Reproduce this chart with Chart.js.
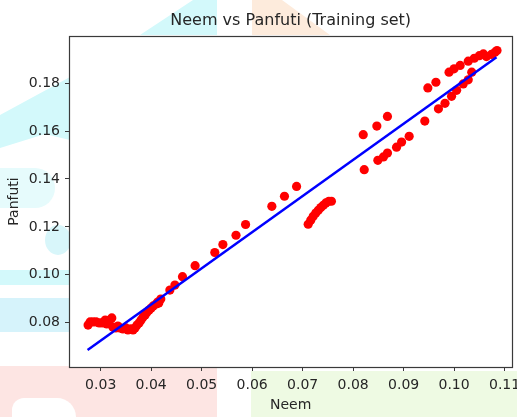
<!DOCTYPE html>
<html>
<head>
<meta charset="utf-8">
<script src="https://cdn.jsdelivr.net/npm/chart.js@4"></script>
<style>
  html, body { margin: 0; padding: 0; background: #ffffff; }
  #wrap { position: relative; width: 517px; height: 417px; overflow: hidden; }
  .wm { position: absolute; }
  #chart { position: absolute; left: 0; top: 0; }
</style>
</head>
<body>
<div id="wrap">
  <!-- faded watermark behind the figure -->
  <div class="wm" style="left:0;top:0;width:517px;height:417px;background:#d3f9fb;clip-path:polygon(140px 35px,193px 0,217px 0,217px 35px);"></div>
  <div class="wm" style="left:0;top:0;width:517px;height:417px;background:#fdebdc;clip-path:polygon(252px 0,282px 0,330px 35px,252px 35px);"></div>
  <div class="wm" style="left:0;top:0;width:517px;height:417px;background:#d3f9fb;clip-path:polygon(0 115px,70px 77px,70px 140px,45px 134px,0 148px);"></div>
  <div class="wm" style="left:0;top:168px;width:55px;height:40px;background:#e6fbfc;border-radius:0 22px 22px 0;"></div>
  <div class="wm" style="left:45px;top:225px;width:26px;height:30px;background:#d8f6fa;border-radius:50%;"></div>
  <div class="wm" style="left:0;top:270px;width:70px;height:15px;background:#d3f9fb;"></div>
  <div class="wm" style="left:0;top:298px;width:70px;height:34px;background:#d6f3fb;"></div>
  <div class="wm" style="left:0;top:366px;width:217px;height:51px;background:#fde5e3;"></div>
  <div class="wm" style="left:12px;top:398px;width:64px;height:19px;background:#ffffff;border-radius:14px 22px 0 0;"></div>
  <div class="wm" style="left:251px;top:371px;width:266px;height:46px;background:#eefae3;"></div>
  <canvas id="chart" width="517" height="417"></canvas>
</div>
<script>
// Neem vs Panfuti — nuage de points + droite de régression

Chart.defaults.font.family = "'DejaVu Sans', sans-serif";
Chart.defaults.color = '#262626';

// valeurs (training set)
const neem = [
  0.0275, 0.0279, 0.0285, 0.0291, 0.0297, 0.0303, 0.0309, 0.0312, 0.0318, 0.0322,
  0.0324, 0.0330, 0.0334, 0.0338, 0.0344, 0.0350, 0.0354, 0.0360, 0.0364, 0.0368,
  0.0372, 0.0376, 0.0380, 0.0384, 0.0388, 0.0392, 0.0396, 0.0400, 0.0404, 0.0410,
  0.0413, 0.0415, 0.0419,
  0.0437, 0.0447, 0.0462, 0.0487, 0.0526, 0.0542, 0.0568, 0.0587, 0.0639, 0.0664, 0.0688,
  0.0711, 0.0716, 0.0721, 0.0726, 0.0731, 0.0736, 0.0741, 0.0746, 0.0752, 0.0757,
  0.0820, 0.0847, 0.0868, 0.0822, 0.0849, 0.0860, 0.0868, 0.0886, 0.0896, 0.0911,
  0.0942, 0.0948, 0.0964, 0.0969, 0.0982, 0.0995, 0.1005, 0.1018, 0.1028, 0.1035,
  0.0990, 0.1000, 0.1012, 0.1028, 0.1040, 0.1050, 0.1058, 0.1064, 0.1074, 0.1081, 0.1085
];
const panfuti = [
  0.0790, 0.0803, 0.0803, 0.0803, 0.0799, 0.0799, 0.0811, 0.0795, 0.0811, 0.0820,
  0.0782, 0.0778, 0.0786, 0.0778, 0.0774, 0.0778, 0.0770, 0.0774, 0.0770, 0.0778,
  0.0790, 0.0799, 0.0811, 0.0824, 0.0832, 0.0845, 0.0853, 0.0861, 0.0870, 0.0878,
  0.0886, 0.0882, 0.0899,
  0.0936, 0.0957, 0.0992, 0.1038, 0.1093, 0.1126, 0.1165, 0.1210, 0.1286, 0.1328, 0.1369,
  0.1211, 0.1228, 0.1244, 0.1258, 0.1269, 0.1281, 0.1290, 0.1300, 0.1307, 0.1307,
  0.1585, 0.1621, 0.1661, 0.1439, 0.1478, 0.1492, 0.1508, 0.1533, 0.1554, 0.1578,
  0.1642, 0.1780, 0.1804, 0.1693, 0.1716, 0.1745, 0.1770, 0.1797, 0.1814, 0.1846,
  0.1846, 0.1860, 0.1874, 0.1892, 0.1904, 0.1915, 0.1922, 0.1911, 0.1920, 0.1929, 0.1936
];

// droite de régression (prédictions aux extrémités)
const fitNeem = [0.0274, 0.1084];
const fitPanfuti = [0.0686, 0.1908];

// graduations
const xTicks = [0.03, 0.04, 0.05, 0.06, 0.07, 0.08, 0.09, 0.10, 0.11];
const yTicks = [0.08, 0.10, 0.12, 0.14, 0.16, 0.18];

const chartTitle = 'Neem vs Panfuti (Training set)';

const toPoints = (xs, ys) => xs.map((x, i) => ({ x: x, y: ys[i] }));

// fond blanc de la zone de tracé, cadre et titre centré sur les axes (façon matplotlib)
const axesFrame = {
  id: 'axesFrame',
  beforeDatasetsDraw(chart) {
    const { ctx, chartArea: a } = chart;
    ctx.save();
    ctx.fillStyle = '#ffffff';
    ctx.fillRect(a.left, a.top, a.right - a.left, a.bottom - a.top);
    ctx.restore();
  },
  afterDraw(chart) {
    const { ctx, chartArea: a } = chart;
    ctx.save();
    ctx.strokeStyle = '#3a3a3a';
    ctx.lineWidth = 1.2;
    ctx.strokeRect(Math.round(a.left) + 0.5, Math.round(a.top) + 0.5,
      Math.round(a.right - a.left), Math.round(a.bottom - a.top));

    ctx.fillStyle = '#262626';
    ctx.font = "16px 'DejaVu Sans', sans-serif";
    ctx.textAlign = 'center';
    ctx.textBaseline = 'middle';
    ctx.fillText(chartTitle, (a.left + a.right) / 2, a.top - 15);
    ctx.restore();
  },
};

const tickFont = { size: 14 };

// pas de marge réservée pour les libellés qui débordent (le 0.11 est coupé à droite)
const noSidePadding = (s) => {
  s.paddingLeft = 0;
  s.paddingRight = 0;
};

new Chart(document.getElementById('chart').getContext('2d'), {
  type: 'scatter',
  data: {
    datasets: [
      {
        type: 'line',
        data: toPoints(fitNeem, fitPanfuti),
        borderColor: '#0000ff',
        borderWidth: 2.5,
        pointRadius: 0,
        fill: false,
      },
      {
        data: toPoints(neem, panfuti),
        backgroundColor: '#ff0000',
        borderWidth: 0,
        pointRadius: 4.6,
      },
    ],
  },
  options: {
    responsive: false,
    animation: false,
    devicePixelRatio: 1,
    layout: { padding: { left: 0, right: 4, top: 36, bottom: 0 } },
    plugins: {
      legend: { display: false },
      tooltip: { enabled: false },
    },
    scales: {
      x: {
        type: 'linear',
        min: 0.02372,
        max: 0.11155,
        afterBuildTicks: (s) => { s.ticks = xTicks.map(v => ({ value: v })); },
        afterFit: (s) => { s.height = 50; noSidePadding(s); },
        grid: { drawOnChartArea: false, drawTicks: true, tickLength: 4, color: '#3a3a3a' },
        border: { display: false },
        ticks: {
          font: tickFont,
          padding: 6,
          maxRotation: 0,
          callback: (v) => v.toFixed(2),
        },
        title: { display: true, text: 'Neem', font: tickFont, padding: { top: 0, bottom: 3 } },
      },
      y: {
        type: 'linear',
        min: 0.0615,
        max: 0.1997,
        afterBuildTicks: (s) => { s.ticks = yTicks.map(v => ({ value: v })); },
        afterFit: (s) => { s.width = 69; s.paddingTop = 0; s.paddingBottom = 0; },
        grid: { drawOnChartArea: false, drawTicks: true, tickLength: 4, color: '#3a3a3a' },
        border: { display: false },
        ticks: {
          font: tickFont,
          padding: 5,
          callback: (v) => v.toFixed(2),
        },
        title: { display: true, text: 'Panfuti', font: tickFont, padding: { top: 6, bottom: 0 } },
      },
    },
  },
  plugins: [axesFrame],
});
</script>
</body>
</html>
